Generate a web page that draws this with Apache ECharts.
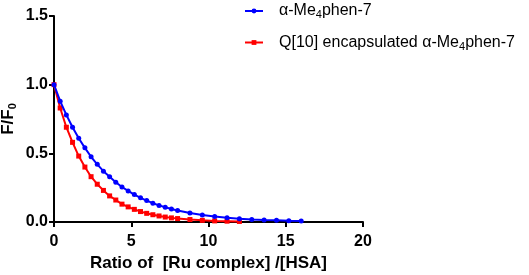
<!DOCTYPE html>
<html lang="en" style="height: 100%">
<head>
  <meta charset="UTF-8" />
  <title>F/F0 quenching</title>
  <script src="https://cdn.jsdelivr.net/npm/echarts@6/dist/echarts.min.js"></script>
</head>
<body style="height: 100%; margin: 0; background: #fff">
  <div id="main" style="width: 529px; height: 275px"></div>
  <script type="text/javascript">
    // x values (ratio), step 0.4 up to 8 then 0.8
    var ratioBlue = [0, 0.4, 0.8, 1.2, 1.6, 2.0, 2.4, 2.8, 3.2, 3.6, 4.0, 4.4, 4.8, 5.2, 5.6, 6.0, 6.4, 6.8, 7.2, 7.6, 8.0,
      8.8, 9.6, 10.4, 11.2, 12.0, 12.8, 13.6, 14.4, 15.2, 16.0];
    var freeVals = [1.00, 0.88, 0.78, 0.69, 0.61, 0.54, 0.475, 0.42, 0.37, 0.33, 0.29, 0.255, 0.226, 0.20, 0.176, 0.156, 0.137, 0.121, 0.107, 0.095, 0.084,
      0.065, 0.051, 0.040, 0.031, 0.024, 0.019, 0.015, 0.012, 0.009, 0.007];
    var ratioRed = [0, 0.4, 0.8, 1.2, 1.6, 2.0, 2.4, 2.8, 3.2, 3.6, 4.0, 4.4, 4.8, 5.2, 5.6, 6.0, 6.4, 6.8, 7.2, 7.6, 8.0,
      8.8, 9.6, 10.4, 11.2, 12.0];
    var encapVals = [1.00, 0.83, 0.69, 0.58, 0.48, 0.40, 0.33, 0.275, 0.23, 0.19, 0.16, 0.13, 0.11, 0.092, 0.076, 0.063, 0.053, 0.044, 0.036, 0.030, 0.025,
      0.018, 0.012, 0.008, 0.006, 0.004];
    var seriesNames = ["α-Me4phen-7", "Q[10] encapsulated α-Me4phen-7"];

    function pairs(xs, ys) {
      var out = [];
      for (var i = 0; i < xs.length; i++) out.push([xs[i], ys[i]]);
      return out;
    }

    var myChart = echarts.init(document.getElementById("main"));
    var fam = "Liberation Sans, Arial, sans-serif";

    var option = {
      animation: false,
      grid: { left: 54, right: 166, top: 16, bottom: 53, outerBoundsMode: "none" },
      legend: {
        orient: "vertical",
        left: 239,
        top: -2,
        itemGap: 14,
        itemWidth: 18,
        itemHeight: 6,
        data: seriesNames,
        formatter: function (name) {
          return name.replace(/^(.*)Me4(.*)$/, "{a|$1Me}{s|4}{a|$2}");
        },
        textStyle: {
          fontFamily: fam,
          fontSize: 16,
          color: "#000",
          padding: [0, 0, 0, 11],
          rich: {
            a: { fontFamily: fam, fontSize: 16, color: "#000" },
            s: { fontFamily: fam, fontSize: 11, color: "#000", padding: [8, 0, 0, 0] }
          }
        }
      },
      xAxis: {
        type: "value",
        min: 0,
        max: 20,
        interval: 5,
        name: "Ratio of  [Ru complex] /[HSA]",
        nameLocation: "middle",
        nameGap: 33,
        nameMoveOverlap: false,
        nameTextStyle: { fontFamily: fam, fontWeight: "bold", fontSize: 17, color: "#000" },
        axisLine: { lineStyle: { color: "#000", width: 2 } },
        axisTick: { length: 5, lineStyle: { color: "#000", width: 2 } },
        axisLabel: { fontFamily: fam, fontWeight: "bold", fontSize: 16, color: "#000", margin: 12 },
        splitLine: { show: false }
      },
      yAxis: {
        type: "value",
        min: 0,
        max: 1.5,
        interval: 0.5,
        name: "{b|F/F}{s|0}",
        nameLocation: "middle",
        nameRotate: 90,
        nameGap: 36,
        nameMoveOverlap: false,
        nameTextStyle: {
          rich: {
            b: { fontFamily: fam, fontWeight: "bold", fontSize: 17, color: "#000" },
            s: { fontFamily: fam, fontWeight: "bold", fontSize: 11, color: "#000", padding: [8, 0, 0, 0] }
          }
        },
        axisLine: { show: true, lineStyle: { color: "#000", width: 2 } },
        axisTick: { show: true, length: 5, lineStyle: { color: "#000", width: 2 } },
        axisLabel: {
          fontFamily: fam, fontWeight: "bold", fontSize: 16, color: "#000", margin: 6,
          formatter: function (v) { return v.toFixed(1); }
        },
        splitLine: { show: false }
      },
      series: [
        {
          name: seriesNames[0],
          type: "line",
          data: pairs(ratioBlue, freeVals),
          symbol: "circle",
          symbolSize: 5,
          lineStyle: { color: "#0000ff", width: 2 },
          itemStyle: { color: "#0000ff" },
          z: 3
        },
        {
          name: seriesNames[1],
          type: "line",
          data: pairs(ratioRed, encapVals),
          symbol: "rect",
          symbolSize: 5,
          lineStyle: { color: "#ff0000", width: 2 },
          itemStyle: { color: "#ff0000" },
          z: 2
        }
      ]
    };
    myChart.setOption(option);
  </script>
</body>
</html>
